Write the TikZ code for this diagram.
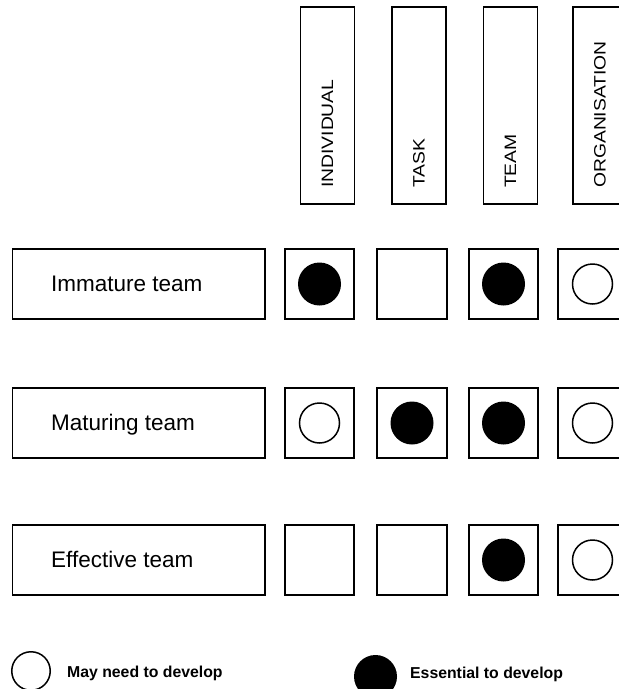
\documentclass[tikz,border=0pt]{standalone}
\usepackage{fontspec}
\setmainfont{Liberation Sans}
\begin{document}
\begin{tikzpicture}[x=1pt,y=-1pt,
  box/.style={draw,line width=1.7pt,inner sep=0pt},
  cell/.style={box,minimum width=69.5pt,minimum height=70pt},
  headbox/.style={box,minimum width=54pt,minimum height=197pt},
  rowbox/.style={box,minimum width=252.5pt,minimum height=70pt},
  headtext/.style={rotate=90,anchor=west,inner sep=0pt,font=\fontsize{16.5}{18}\selectfont},
  rowtext/.style={anchor=base west,inner sep=0pt,font=\fontsize{22.5}{26}\selectfont},
  keytext/.style={anchor=base west,inner sep=0pt,font=\bfseries\fontsize{15.8}{18}\selectfont},
  full/.style={circle,fill=black,minimum size=43pt,inner sep=0pt},
  open/.style={circle,draw,line width=1.5pt,minimum size=40pt,inner sep=0pt}
]
\clip (0,0) rectangle (619,689);
\fill[white] (0,0) rectangle (619,689);

% column headings
\node[headbox] (hInd) at (327.5,105.5) {};
\node[headbox] (hTask) at (419,105.5) {};
\node[headbox] (hTeam) at (510.5,105.5) {};
\node[headbox] (hOrg) at (600,105.5) {};
\node[headtext] (tInd) at (327.5,188) {\scalebox{1.17}[1]{INDIVIDUAL}};
\node[headtext] (tTask) at (419,188) {\scalebox{1.17}[1]{TASK}};
\node[headtext] (tTeam) at (510.5,188) {\scalebox{1.17}[1]{TEAM}};
\node[headtext] (tOrg) at (600,188) {\scalebox{1.17}[1]{ORGANISATION}};

% row labels
\node[rowbox] (rImm) at (138.75,284) {};
\node[rowbox] (rMat) at (138.75,423) {};
\node[rowbox] (rEff) at (138.75,560) {};
\node[rowtext] (lImm) at (51,291.5) {Immature team};
\node[rowtext] (lMat) at (51,430.5) {Maturing team};
\node[rowtext] (lEff) at (51,567.5) {Effective team};

% grid cells
\node[cell] (c11) at (319.5,284) {};
\node[cell] (c12) at (412,284) {};
\node[cell] (c13) at (503.5,284) {};
\node[cell] (c14) at (592.5,284) {};
\node[cell] (c21) at (319.5,423) {};
\node[cell] (c22) at (412,423) {};
\node[cell] (c23) at (503.5,423) {};
\node[cell] (c24) at (592.5,423) {};
\node[cell] (c31) at (319.5,560) {};
\node[cell] (c32) at (412,560) {};
\node[cell] (c33) at (503.5,560) {};
\node[cell] (c34) at (592.5,560) {};

% marks in the cells
\node[full] (m11) at (c11) {};
\node[full] (m13) at (c13) {};
\node[open] (m14) at (c14) {};
\node[open] (m21) at (c21) {};
\node[full] (m22) at (c22) {};
\node[full] (m23) at (c23) {};
\node[open] (m24) at (c24) {};
\node[full] (m33) at (c33) {};
\node[open] (m34) at (c34) {};

% key
\node[open,minimum size=38.5pt] (kOpen) at (31,671) {};
\node[keytext] (kOpenTxt) at (67,677) {May need to develop};
\node[full] (kFull) at (375.5,676.5) {};
\node[keytext] (kFullTxt) at (410,678) {Essential to develop};
\end{tikzpicture}
\end{document}
